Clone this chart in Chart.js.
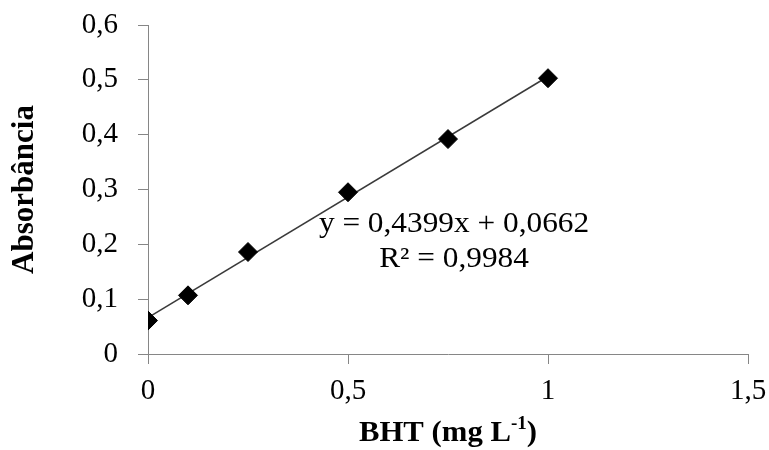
<!DOCTYPE html>
<html>
<head>
<meta charset="utf-8">
<script src="https://cdn.jsdelivr.net/npm/chart.js@4/dist/chart.umd.min.js"></script>
<style>
  html, body { margin: 0; padding: 0; background: #ffffff; }
  #wrap { width: 769px; height: 450px; }
</style>
</head>
<body>
<div id="wrap"><canvas id="c" width="769" height="450"></canvas></div>
<script>
// ---- data ----
const bhtConc = [0, 0.1, 0.25, 0.5, 0.75, 1];
const absorbance = [0.061, 0.107, 0.186, 0.295, 0.392, 0.503];
const trendX = [0, 1];
const trendY = [0.0662, 0.5061];
const xTickValues = [0, 0.5, 1, 1.5];
const xTickLabels = ['0', '0,5', '1', '1,5'];
const yTickValues = [0, 0.1, 0.2, 0.3, 0.4, 0.5, 0.6];
const yTickLabels = ['0', '0,1', '0,2', '0,3', '0,4', '0,5', '0,6'];
const equationLines = ['y = 0,4399x + 0,0662', 'R² = 0,9984'];
const xTitleMain = 'BHT (mg L';
const xTitleSup = '-1';
const xTitleEnd = ')';
const yTitle = 'Absorbância';

const FONT = "'Liberation Serif', 'Times New Roman', serif";
const AXIS = '#868686';

const pointData = bhtConc.map((x, i) => ({ x: x, y: absorbance[i] }));
const trendData = trendX.map((x, i) => ({ x: x, y: trendY[i] }));

const textPlugin = {
  id: 'texts',
  afterDatasetsDraw(chart) {
    const { ctx, scales, chartArea } = chart;
    // regression equation
    const cx = scales.x.getPixelForValue(0.765);
    const y1 = scales.y.getPixelForValue(0.2365);
    const y2 = scales.y.getPixelForValue(0.1725);
    ctx.save();
    ctx.fillStyle = '#000';
    ctx.font = '29px ' + FONT;
    ctx.textAlign = 'center';
    ctx.textBaseline = 'middle';
    ctx.translate(cx, 0);
    ctx.scale(1.08, 1);
    ctx.fillText(equationLines[0], 0, y1);
    ctx.fillText(equationLines[1], 0, y2);
    ctx.restore();

    // x axis title with superscript
    ctx.save();
    ctx.fillStyle = '#000';
    ctx.textBaseline = 'alphabetic';
    ctx.textAlign = 'left';
    const mainFont = 'bold 29px ' + FONT;
    const supFont = 'bold 18px ' + FONT;
    ctx.font = mainFont;
    const w1 = ctx.measureText(xTitleMain).width;
    const w3 = ctx.measureText(xTitleEnd).width;
    ctx.font = supFont;
    const w2 = ctx.measureText(xTitleSup).width;
    const sx = 1.06;
    const total = (w1 + w2 + w3) * sx;
    const midX = (chartArea.left + chartArea.right) / 2;
    const baseY = 441;
    ctx.translate(midX - total / 2, 0);
    ctx.scale(sx, 1);
    ctx.font = mainFont;
    ctx.fillText(xTitleMain, 0, baseY);
    ctx.font = supFont;
    ctx.fillText(xTitleSup, w1, baseY - 12);
    ctx.font = mainFont;
    ctx.fillText(xTitleEnd, w1 + w2, baseY);
    ctx.restore();
  }
};

new Chart(document.getElementById('c'), {
  type: 'scatter',
  data: {
    datasets: [
      {
        label: 'BHT',
        data: pointData,
        pointStyle: 'rectRot',
        pointRadius: 9.5,
        pointHoverRadius: 9.5,
        backgroundColor: '#000',
        borderColor: '#000',
        borderWidth: 1,
        showLine: false,
        order: 1
      },
      {
        label: 'Linear',
        data: trendData,
        showLine: true,
        pointRadius: 0,
        borderColor: '#3a3a3a',
        borderWidth: 1.5,
        fill: false,
        order: 2
      }
    ]
  },
  options: {
    responsive: false,
    animation: false,
    devicePixelRatio: 1,
    layout: { padding: { top: 25, right: 21, left: 0, bottom: 0 } },
    plugins: {
      legend: { display: false },
      tooltip: { enabled: false }
    },
    scales: {
      x: {
        type: 'linear',
        min: 0,
        max: 1.5,
        afterBuildTicks(scale) { scale.ticks = xTickValues.map(v => ({ value: v })); },
        afterFit(scale) { scale.height = 96; scale.paddingRight = 0; scale.paddingLeft = 0; },
        ticks: {
          color: '#000',
          font: { family: FONT, size: 29 },
          padding: 10,
          maxRotation: 0,
          autoSkip: false,
          callback: (v, i) => xTickLabels[i]
        },
        grid: { drawOnChartArea: false, drawTicks: true, tickLength: 10, color: AXIS, lineWidth: 1 },
        border: { display: true, color: AXIS, width: 1 },
        title: { display: false }
      },
      y: {
        type: 'linear',
        min: 0,
        max: 0.6,
        afterBuildTicks(scale) { scale.ticks = yTickValues.map(v => ({ value: v })); },
        afterFit(scale) { scale.width = 148; scale.paddingTop = 0; scale.paddingBottom = 0; },
        ticks: {
          color: '#000',
          font: { family: FONT, size: 29 },
          padding: 20,
          autoSkip: false,
          callback: (v, i) => yTickLabels[i]
        },
        grid: { drawOnChartArea: false, drawTicks: true, tickLength: 10, color: AXIS, lineWidth: 1 },
        border: { display: true, color: AXIS, width: 1 },
        title: {
          display: true,
          text: yTitle,
          color: '#000',
          font: { family: FONT, size: 31, weight: 'bold' },
          padding: { top: 6, bottom: 0 }
        }
      }
    }
  },
  plugins: [textPlugin]
});
</script>
</body>
</html>
